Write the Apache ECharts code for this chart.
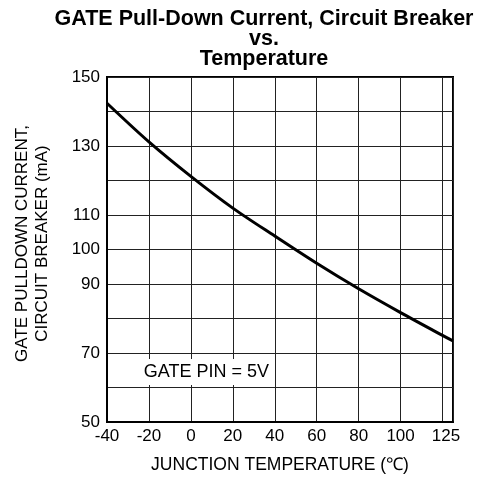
<!DOCTYPE html>
<html>
<head>
<meta charset="utf-8">
<script src="https://cdn.jsdelivr.net/npm/echarts@6/dist/echarts.min.js"></script>
<style>
html,body{margin:0;padding:0;background:#fff;}
#chart{width:482px;height:479px;}
</style>
</head>
<body>
<div id="chart"></div>
<script>
// Data
var temperatures = [-40, -20, 0, 20, 40, 60, 80, 100, 120, 125];
var pulldownCurrent = [142.4, 131.2, 121.2, 112.0, 103.9, 96.0, 88.6, 81.7, 75.1, 73.5];
var yTickLabels = [50, 70, 90, 100, 110, 130, 150];
var xTickLabels = [-40, -20, 0, 20, 40, 60, 80, 100, 125];
var annotationText = 'GATE PIN = 5V';
var annotationAt = [7.4, 64.5];

var FONT = '"Liberation Sans", Arial, Helvetica, sans-serif';
var chart = echarts.init(document.getElementById('chart'), null, {renderer: 'canvas'});

var seriesData = temperatures.map(function (t, i) { return [t, pulldownCurrent[i]]; });

chart.setOption({
  animation: false,
  backgroundColor: '#fff',
  title: {
    text: 'GATE Pull-Down Current, Circuit Breaker\nvs.\nTemperature',
    left: 264,
    top: 9,
    padding: 0,
    textAlign: 'center',
    textStyle: {
      fontFamily: FONT,
      fontWeight: 'bold',
      fontSize: 21.5,
      lineHeight: 20,
      color: '#000'
    }
  },
  grid: {
    left: 107,
    right: 29,
    top: 77,
    bottom: 56,
    show: true,
    borderColor: '#000',
    borderWidth: 2,
    containLabel: false
  },
  xAxis: {
    type: 'value',
    min: -40,
    max: 125,
    interval: 20,
    name: 'JUNCTION TEMPERATURE (\u2103)',
    nameLocation: 'middle',
    nameGap: 34,
    nameTextStyle: {fontFamily: FONT, fontSize: 17.5, color: '#000'},
    axisLine: {show: true, onZero: false, lineStyle: {color: '#000', width: 2}},
    axisTick: {show: false},
    splitLine: {show: true, lineStyle: {color: '#222', width: 1}},
    axisLabel: {
      show: true,
      showMaxLabel: true,
      showMinLabel: true,
      margin: 6,
      fontFamily: FONT,
      fontSize: 17,
      color: '#000',
      formatter: function (v) {
        if (xTickLabels.indexOf(v) < 0) return '';
        if (v === 125) return '{r|' + v + '}';
        return String(v);
      },
      rich: {
        r: {fontFamily: FONT, fontSize: 17, color: '#000', padding: [0, 14, 0, 0]}
      }
    }
  },
  yAxis: {
    type: 'value',
    min: 50,
    max: 150,
    interval: 10,
    name: 'GATE PULLDOWN CURRENT,\nCIRCUIT BREAKER (mA)',
    nameLocation: 'middle',
    nameRotate: 90,
    nameGap: 55,
    nameTextStyle: {fontFamily: FONT, fontSize: 17, lineHeight: 20, color: '#000', padding: [0, 0, 0, 12]},
    axisLine: {show: true, onZero: false, lineStyle: {color: '#000', width: 2}},
    axisTick: {show: false},
    splitLine: {show: true, lineStyle: {color: '#222', width: 1}},
    axisLabel: {
      margin: 7,
      fontFamily: FONT,
      fontSize: 17,
      color: '#000',
      formatter: function (v) {
        return yTickLabels.indexOf(v) >= 0 ? String(v) : '';
      }
    }
  },
  series: [{
    type: 'line',
    data: seriesData,
    smooth: 0.3,
    symbol: 'none',
    lineStyle: {color: '#000', width: 3},
    markPoint: {
      symbol: 'rect',
      symbolSize: 0,
      silent: true,
      data: [{
        coord: annotationAt,
        label: {
          show: true,
          position: 'inside',
          formatter: annotationText,
          fontFamily: FONT,
          fontSize: 18,
          color: '#000',
          backgroundColor: '#fff',
          padding: [4, 3, 4, 3]
        }
      }]
    }
  }]
});
</script>
</body>
</html>
